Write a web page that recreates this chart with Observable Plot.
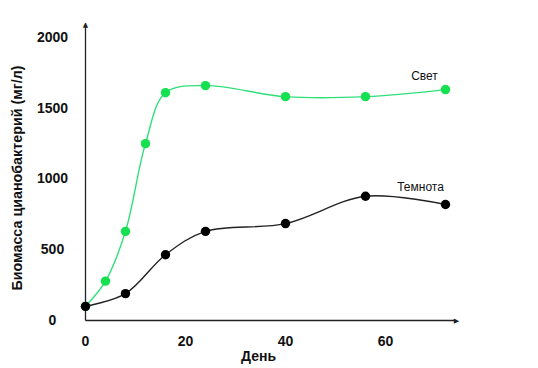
<!DOCTYPE html>
<html><head><meta charset="utf-8">
<script src="https://cdn.jsdelivr.net/npm/d3@7"></script>
<script src="https://cdn.jsdelivr.net/npm/@observablehq/plot@0.6"></script>
<style>
body{margin:0;background:#fff;}
#chart svg{font-family:"Liberation Sans",Arial,sans-serif;}
</style>
</head><body><div id="chart"></div>
<script>
const lightDays = [0, 4, 8, 12, 16, 24, 40, 56, 72];
const lightValues = [100, 278, 630, 1250, 1610, 1660, 1582, 1582, 1632];
const darkDays = [0, 8, 16, 24, 40, 56, 72];
const darkValues = [100, 190, 465, 630, 685, 878, 820];
const xTicks = [0, 20, 40, 60];
const yTicks = [0, 500, 1000, 1500, 2000];
const seriesNames = ["Свет", "Темнота"];
const xLabel = "День";
const yLabel = "Биомасса цианобактерий (мг/л)";

const light = lightDays.map((d, i) => ({day: d, value: lightValues[i]}));
const dark = darkDays.map((d, i) => ({day: d, value: darkValues[i]}));
const lightColor = "#2fe07a";
const lightDot = "#14e050";

const chart = Plot.plot({
  width: 538,
  height: 368,
  marginLeft: 85,
  marginRight: 93,
  marginTop: 37,
  marginBottom: 48,
  style: {fontFamily: "'Liberation Sans', Arial, sans-serif", background: "#fff"},
  x: {domain: [0, 72]},
  y: {domain: [0, 2000]},
  marks: [
    Plot.axisX({ticks: xTicks, tickFormat: d => String(d), tickSize: 0, tickPadding: 16, fontSize: 14, fontWeight: "bold", label: null, fill: "#111"}),
    Plot.axisY({ticks: yTicks, tickFormat: d => String(d), tickSize: 0, tickPadding: 33, textAnchor: "middle", fontSize: 14, fontWeight: "bold", label: null, fill: "#111"}),
    Plot.text([yLabel], {frameAnchor: "left", textAnchor: "middle", dx: -68, dy: -1, rotate: -90, text: d => d, fontSize: 14.3, fontWeight: "bold", fill: "#111"}),
    Plot.text([xLabel], {frameAnchor: "bottom", dx: -7, dy: 40, text: d => d, fontSize: 14, fontWeight: "bold", fill: "#111"}),
    // axis lines with arrows (extend a bit past the data domain)
    Plot.link([0], {x1: 0, y1: 0, x2: 0, y2: 2100, stroke: "#222", strokeWidth: 1.3}),
    Plot.link([0], {x1: 0, y1: 0, x2: 74, y2: 0, stroke: "#222", strokeWidth: 1.3}),
    Plot.text([0], {x: 0, y: 2100, text: () => "▲", fontSize: 7, fill: "#222", dy: 1, fontFamily: "DejaVu Sans"}),
    Plot.text([0], {x: 74, y: 0, text: () => "▶", fontSize: 7, fill: "#222", dx: 1, fontFamily: "DejaVu Sans"}),
    Plot.line(light, {x: "day", y: "value", curve: "catmull-rom", stroke: lightColor, strokeWidth: 1.4}),
    Plot.line(dark, {x: "day", y: "value", curve: "catmull-rom", stroke: "#222", strokeWidth: 1.4}),
    Plot.dot(light, {x: "day", y: "value", r: 4.7, fill: lightDot}),
    Plot.dot(dark, {x: "day", y: "value", r: 4.7, fill: "#000"}),
    Plot.text([light[light.length - 1]], {x: "day", y: "value", text: () => seriesNames[0], dx: -21, dy: -13, fontSize: 12, fill: "#111"}),
    Plot.text([dark[dark.length - 1]], {x: "day", y: "value", text: () => seriesNames[1], dx: -25, dy: -17, fontSize: 12, fill: "#111"})
  ]
});
document.getElementById("chart").appendChild(chart);
</script>
</body></html>
